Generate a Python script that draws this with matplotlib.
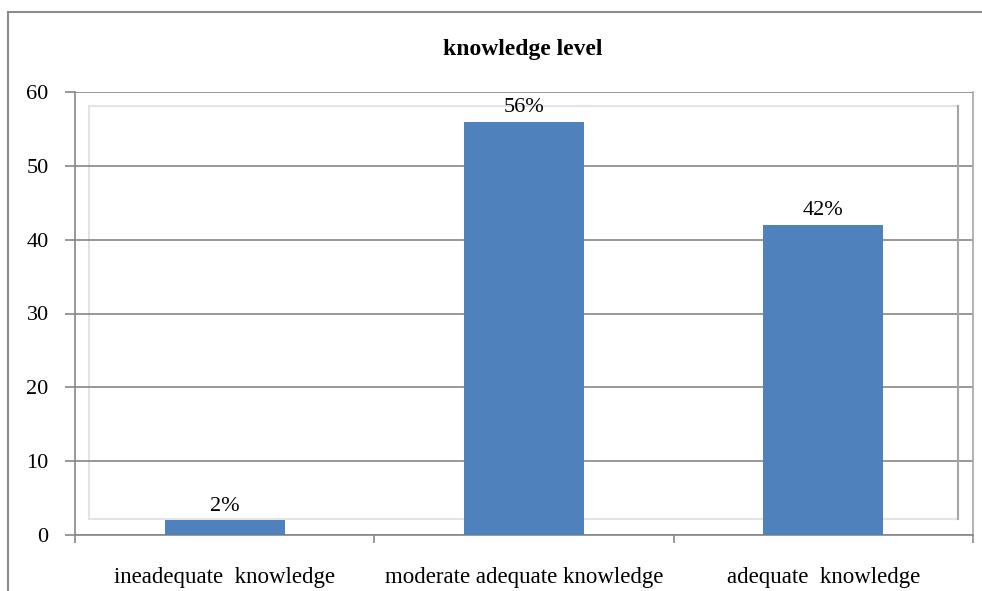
import matplotlib
matplotlib.use("Agg")
import matplotlib.pyplot as plt
from matplotlib.patches import Rectangle
from matplotlib.lines import Line2D

# data
categories = ['ineadequate  knowledge', 'moderate adequate knowledge', 'adequate  knowledge']
values = [2, 56, 42]
labels = ['2%', '56%', '42%']

plt.rcParams['font.family'] = ['Liberation Serif', 'DejaVu Serif']

fig = plt.figure(figsize=(9.82, 5.91), dpi=100)
W, H = 982, 591

def fx(px):
    return px / W

def fy(py):
    return 1 - py / H

# outer chart border
fig.add_artist(Line2D([fx(8), fx(8)], [fy(12), 0], color='#8c8c8c', lw=1.5))
fig.add_artist(Line2D([fx(8), 1], [fy(12), fy(12)], color='#8c8c8c', lw=1.5))

ax = fig.add_axes([fx(75), fy(535), fx(973) - fx(75), fy(92) - fy(535)])

x = [i + 0.5 for i in range(len(categories))]
ax.bar(x, values, width=0.4, color='#4f81bd', zorder=3)
for xi, v, lab in zip(x, values, labels):
    ax.text(xi, v + 0.6, lab, ha='center', va='bottom', fontsize=16, zorder=4)

ax.set_xlim(0, 3)
ax.set_ylim(0, 60)
ax.set_yticks(range(0, 61, 10))
ax.set_xticks([0, 1, 2, 3])
ax.set_xticklabels([])
ax.set_xticks(x, minor=True)
ax.set_xticklabels(categories, minor=True)
ax.tick_params(axis='x', which='minor', length=0, pad=23, labelsize=16.5)
ax.tick_params(axis='x', which='major', length=6, color='#868686', width=1.2)
ax.tick_params(axis='y', length=7, color='#868686', width=1.2, labelsize=16, pad=12)

ax.yaxis.grid(True, color='#868686', lw=1.2, zorder=1)
ax.set_axisbelow(True)

for s in ['top', 'right']:
    ax.spines[s].set_visible(False)
for s in ['left', 'bottom']:
    ax.spines[s].set_color('#868686')
    ax.spines[s].set_linewidth(1.2)

# back wall (3d look)
wall = Rectangle((0.0156, 0.036), 0.9833 - 0.0156, 0.968 - 0.036, transform=ax.transAxes,
                 fill=False, edgecolor='#e3e3e3', lw=1.5, zorder=0.5)
ax.add_patch(wall)
ax.add_line(Line2D([0.9833, 0.9833], [0.036, 0.968], transform=ax.transAxes,
                   color='#a6a6a6', lw=1.5, zorder=0.6))
ax.add_line(Line2D([1, 1], [-0.012, 1], transform=ax.transAxes, clip_on=False,
                   color='#a6a6a6', lw=1.2, zorder=0.6))

fig.text(fx(523), fy(50), 'knowledge level', ha='center', va='center',
         fontsize=17, fontweight='bold')

fig.savefig('out.png', dpi=100)
